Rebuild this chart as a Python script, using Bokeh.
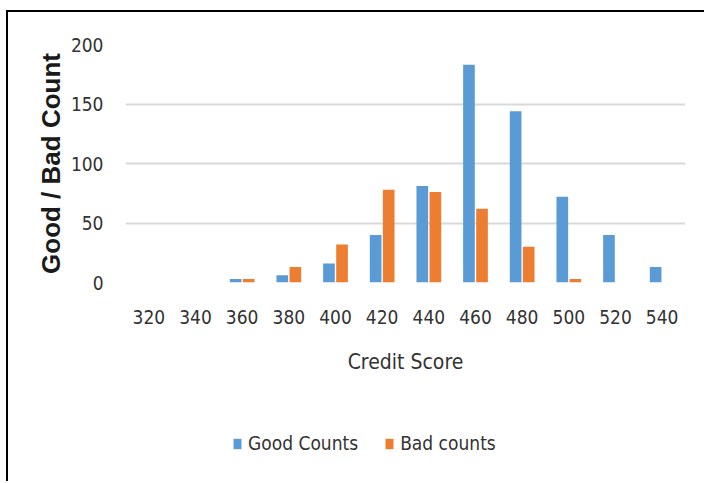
from bokeh.plotting import figure
from bokeh.layouts import column
from bokeh.models import (FactorRange, Range1d, Legend, LegendItem, ColumnDataSource,
                          FixedTicker)
from bokeh.transform import dodge
from bokeh.embed import file_html
from bokeh.resources import INLINE

scores = ["320", "340", "360", "380", "400", "420", "440", "460", "480", "500", "520", "540"]
good_counts = [0, 0, 3, 6, 16, 40, 81, 183, 144, 72, 40, 13]
bad_counts = [0, 0, 3, 13, 32, 78, 76, 62, 30, 3, 0, 0]
y_ticks = [0, 50, 100, 150, 200]
series_names = ["Good Counts", "Bad counts"]

BLUE = "#5B9BD5"
ORANGE = "#ED7D31"
FONT = "DejaVu Sans Condensed"

src = ColumnDataSource(dict(score=scores, good=good_counts, bad=bad_counts))
xr = FactorRange(*scores, range_padding=0)

W = 700
p = figure(width=W, height=380, output_backend="svg", toolbar_location=None,
           x_range=xr, y_range=Range1d(0, 200),
           min_border_left=117, min_border_right=W - 677, min_border_top=32,
           min_border_bottom=110)
p.outline_line_color = None

p.vbar(x=dodge("score", -0.14, range=xr), top="good", width=0.25,
       source=src, fill_color=BLUE, line_color=None)
p.vbar(x=dodge("score", 0.14, range=xr), top="bad", width=0.25,
       source=src, fill_color=ORANGE, line_color=None)

p.xgrid.grid_line_color = None
p.ygrid.grid_line_color = "#D9D9D9"
p.ygrid.grid_line_width = 2
p.yaxis.ticker = FixedTicker(ticks=y_ticks)

for ax in (p.xaxis[0], p.yaxis[0]):
    ax.axis_line_color = None
    ax.major_tick_line_color = None
    ax.minor_tick_line_color = None
    ax.major_label_text_font = FONT
    ax.major_label_text_font_size = "19px"
    ax.major_label_text_color = "#333333"

p.yaxis.major_label_standoff = 16
p.xaxis.major_label_standoff = 21

p.xaxis.axis_label = "Credit Score"
p.xaxis.axis_label_text_font = FONT
p.xaxis.axis_label_text_font_size = "21px"
p.xaxis.axis_label_text_font_style = "normal"
p.xaxis.axis_label_text_color = "#333333"
p.xaxis.axis_label_standoff = 23

p.yaxis.axis_label = "Good / Bad Count"
p.yaxis.axis_label_text_font = "Liberation Sans"
p.yaxis.axis_label_text_font_size = "26px"
p.yaxis.axis_label_text_font_style = "bold"
p.yaxis.axis_label_text_color = "#1a1a1a"
p.yaxis.axis_label_standoff = 2

# legend strip below the chart (same data, drawn outside its visible y range)
pleg = figure(width=W, height=91, output_backend="svg", toolbar_location=None,
              x_range=xr, y_range=Range1d(1000, 1001),
              min_border=0, min_border_left=0, min_border_right=0,
              min_border_top=0, min_border_bottom=0)
pleg.axis.visible = False
pleg.grid.visible = False
pleg.outline_line_color = None
lg = pleg.vbar(x="score", top="good", width=0.25, source=src,
               fill_color=BLUE, line_color=None)
lb = pleg.vbar(x="score", top="bad", width=0.25, source=src,
               fill_color=ORANGE, line_color=None)

legend = Legend(items=[LegendItem(label=series_names[0], renderers=[lg]),
                       LegendItem(label=series_names[1], renderers=[lb])],
                orientation="horizontal", location=(107, 29),
                glyph_width=10, glyph_height=13, label_standoff=6, spacing=26,
                padding=0, margin=0, border_line_color=None, background_fill_alpha=0,
                label_text_font=FONT, label_text_font_size="19px",
                label_text_color="#333333")
pleg.add_layout(legend, "center")

layout = column(p, pleg, spacing=0)
layout.margin = (12, 0, 0, 8)
layout.styles = {"box-shadow": "-2px -2px 0 0 #000000"}

open("out.html", "w").write(file_html(layout, INLINE))
